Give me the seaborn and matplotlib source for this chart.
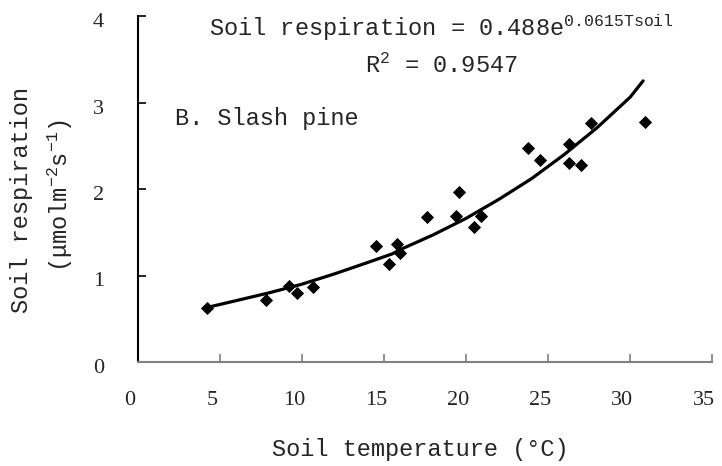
import numpy as np
import pandas as pd
import matplotlib
matplotlib.use('Agg')
import matplotlib.pyplot as plt
import matplotlib.transforms as mtransforms
import seaborn as sns

# data
soil_temp = [4.2, 7.8, 9.2, 9.7, 10.7, 14.5, 15.3, 15.8, 16.0, 17.6, 19.4, 19.6,
             20.5, 20.9, 23.8, 24.5, 26.3, 26.3, 27.0, 27.6, 30.9]
soil_resp = [0.62, 0.72, 0.88, 0.80, 0.87, 1.34, 1.13, 1.36, 1.26, 1.68, 1.69, 1.96,
             1.56, 1.69, 2.47, 2.34, 2.52, 2.30, 2.28, 2.76, 2.77]

# fitted curve as drawn
fit_temp = [4.2, 6, 8, 10, 12, 14, 15.5, 16, 18, 20, 22, 24, 26, 28, 30, 30.8]
fit_resp = [0.63, 0.71, 0.80, 0.90, 1.02, 1.15, 1.25, 1.30, 1.47, 1.66, 1.88, 2.12, 2.40, 2.71, 3.06, 3.25]

x_ticks = [0, 5, 10, 15, 20, 25, 30, 35]
y_ticks = [0, 1, 2, 3, 4]

pts = pd.DataFrame({'Tsoil': soil_temp, 'Rs': soil_resp})
fit = pd.DataFrame({'Tsoil': fit_temp, 'Rs': fit_resp})

sns.set_style('white')
plt.rcParams['font.family'] = ['Liberation Mono', 'DejaVu Sans Mono']
plt.rcParams['mathtext.default'] = 'regular'

fig, ax = plt.subplots(figsize=(7.22, 4.66), dpi=100)
fig.subplots_adjust(left=138/722, right=712/722, bottom=1-362/466, top=1-16/466)

sns.lineplot(data=fit, x='Tsoil', y='Rs', color='black', linewidth=2.3, ax=ax)
sns.scatterplot(data=pts, x='Tsoil', y='Rs', marker='D', s=45, color='black',
                linewidth=0, ax=ax, zorder=3)

ax.set_xlim(0, 35)
ax.set_ylim(0, 4)
ax.set_xticks(x_ticks)
ax.set_yticks(y_ticks)
ax.set_xlabel('')
ax.set_ylabel('')

for s in ['top', 'right']:
    ax.spines[s].set_visible(False)
ax.spines['left'].set_color('black')
ax.spines['left'].set_linewidth(1.5)
ax.spines['bottom'].set_color('#808080')
ax.spines['bottom'].set_linewidth(1.5)

ax.tick_params(axis='y', direction='in', length=6, width=1.2, color='black',
               pad=24.5, labelsize=16, left=True, labelfontfamily='Liberation Serif')
ax.tick_params(axis='x', direction='in', length=6, width=1.2, color='#808080',
               pad=21, labelsize=16, bottom=True, labelfontfamily='Liberation Serif')

# tick labels sit a little off their ticks in the original
for lab in ax.get_xticklabels():
    lab.set_transform(lab.get_transform() + mtransforms.ScaledTranslation(-0.08, 0, fig.dpi_scale_trans))
for lab in ax.get_yticklabels():
    lab.set_transform(lab.get_transform() + mtransforms.ScaledTranslation(0, -0.04, fig.dpi_scale_trans))

# annotations
fig.text(209/722, 1-36/466, 'Soil respiration = 0.488e$^{0.0615Tsoil}$', fontsize=17,
         ha='left', va='baseline')
fig.text(365/722, 1-73/466, 'R$^2$ = 0.9547', fontsize=17, ha='left', va='baseline')
fig.text(175/722, 1-125/466, 'B. Slash pine', fontsize=17, ha='left', va='baseline')

# axis titles
fig.text(420/722, 1-456/466, 'Soil temperature (°C)', fontsize=17, ha='center', va='baseline')
fig.text(22/722, 1-200/466, 'Soil respiration', fontsize=17, rotation=90,
         ha='center', va='center')
fig.text(60/722, 1-195/466, '(μmolm$^{-2}$s$^{-1}$)', fontsize=17, rotation=90,
         ha='center', va='center')

plt.savefig('out.png', dpi=100)
